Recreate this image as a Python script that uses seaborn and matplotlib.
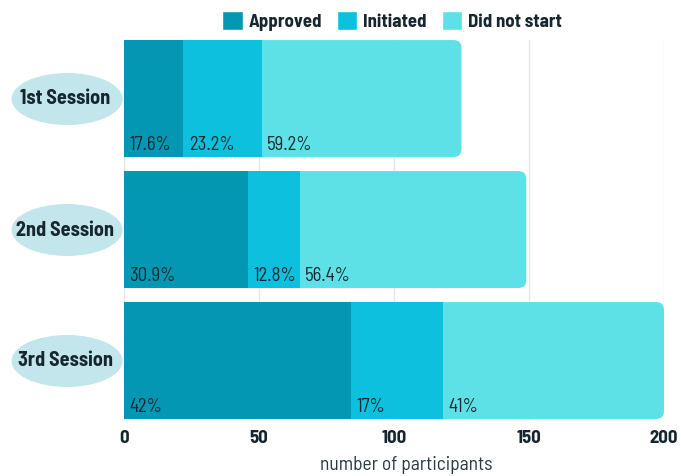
import numpy as np
import pandas as pd
import seaborn as sns
import matplotlib.pyplot as plt
from matplotlib.patches import FancyBboxPatch, Ellipse, Patch

sessions = ['1st Session', '2nd Session', '3rd Session']
approved = [22, 46, 84]
initiated = [29, 19, 34]
not_started = [74, 84, 82]
pct_approved = ['17.6%', '30.9%', '42%']
pct_initiated = ['23.2%', '12.8%', '17%']
pct_not_started = ['59.2%', '56.4%', '41%']

c_app = '#0397b3'
c_ini = '#0dc0de'
c_not = '#5de1e6'
c_txt = '#16262e'

df = pd.DataFrame({'session': sessions, 'approved': approved,
                   'initiated': initiated, 'not_started': not_started})
df['lvl2'] = df['approved'] + df['initiated']
df['total'] = df['lvl2'] + df['not_started']

sns.set_style('white')
plt.rcParams['font.family'] = ['Barlow Semi Condensed', 'DejaVu Sans']

fig = plt.figure(figsize=(6.81, 4.76), dpi=100)
ax = fig.add_axes([124/681, 1-420/476, 540/681, 380/476])

sns.barplot(data=df, x='total', y='session', color=c_not, width=0.893,
            saturation=1, linewidth=0, ax=ax, zorder=2)
# rounded right end on the total bars
for p in list(ax.patches):
    x0, y0 = p.get_x(), p.get_y()
    w, h = p.get_width(), p.get_height()
    p.set_visible(False)
    fb = FancyBboxPatch((x0, y0), w, h, boxstyle='round,pad=0,rounding_size=3',
                        mutation_aspect=0.0204, fc=c_not, ec='none', zorder=2)
    ax.add_patch(fb)
sns.barplot(data=df, x='lvl2', y='session', color=c_ini, width=0.893,
            saturation=1, linewidth=0, ax=ax, zorder=3)
sns.barplot(data=df, x='approved', y='session', color=c_app, width=0.893,
            saturation=1, linewidth=0, ax=ax, zorder=4)

yb = 0.893 / 2
for i in range(len(sessions)):
    lefts = [0, df['approved'][i], df['lvl2'][i]]
    labs = [pct_approved[i], pct_initiated[i], pct_not_started[i]]
    for l, t in zip(lefts, labs):
        ax.text(l + 2.0, i + yb - 0.053, t, fontsize=13.5, color=c_txt,
                ha='left', va='baseline', zorder=5)

ax.set_xlim(0, 200)
ax.set_ylim(2.454, -0.447)
ax.set_xticks([0, 50, 100, 150, 200])
ax.tick_params(axis='x', length=0, pad=7, labelsize=13.5, labelcolor=c_txt)
for lab in ax.get_xticklabels():
    lab.set_fontweight('bold')
ax.set_yticks([])
ax.set_ylabel('')
ax.set_xlabel('number of participants', fontsize=14, color='#2a3a42')
ax.xaxis.set_label_coords((406 - 124) / 540, -0.095)
ax.grid(axis='x', color='#e6e6e6', lw=1, zorder=0)
ax.set_axisbelow(True)
for s in ax.spines.values():
    s.set_visible(False)

# ellipse labels on the left
centers_px = [99, 230, 361]
for s, cy in zip(sessions, centers_px):
    e = Ellipse((67/681, 1-cy/476), 111/681, 52/476, transform=fig.transFigure,
                fc='#c3e5ec', ec='none')
    fig.patches.append(e)
    fig.text(65/681, 1-cy/476, s, ha='center', va='center', fontsize=14.5,
             fontweight='bold', color=c_txt)

handles = [Patch(fc=c_app, label='Approved'), Patch(fc=c_ini, label='Initiated'),
           Patch(fc=c_not, label='Did not start')]
leg = fig.legend(handles=handles, loc='center', bbox_to_anchor=(392/681, 1-21/476),
                 ncol=3, frameon=False, fontsize=13.5, handlelength=1.07,
                 handleheight=1.12, handletextpad=0.32, columnspacing=0.8,
                 borderpad=0)
for t in leg.get_texts():
    t.set_fontweight('bold')
    t.set_color(c_txt)

fig.savefig('out.png', dpi=100)
